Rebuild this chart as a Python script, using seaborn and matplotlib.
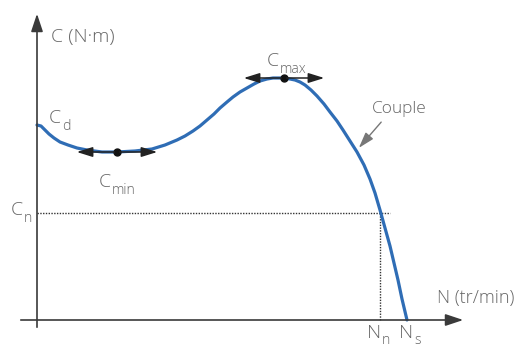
import numpy as np
import pandas as pd
import seaborn as sns
import matplotlib.pyplot as plt

sns.set_theme(style="white")
plt.rcParams['font.family'] = ['Open Sans', 'DejaVu Sans']

# torque curve C = f(N) (origin at the axes crossing)
speed = [0, 4, 8, 12, 17, 23, 31, 40, 50, 65, 80, 98, 115, 128, 140, 148, 156, 163,
         170, 177, 183, 190, 196, 203, 210, 217, 223, 230, 236, 242, 247, 253, 258,
         263, 268, 274, 280, 287, 293, 300, 306, 313, 320, 327, 333, 338, 343, 348,
         353, 357, 361, 365, 370]
torque = [195, 194, 190, 186, 182, 178, 175, 172, 170, 168, 168, 169, 171, 175, 180, 184,
          189, 194, 200, 206, 212, 218, 223, 228, 232, 236, 239, 241, 242, 242, 242, 241,
          240, 238, 235, 230, 224, 216, 208, 199, 190, 179, 168, 155, 141, 127, 110, 92,
          74, 57, 40, 21, 0]

C_min = (80, 168)
C_max = (247, 242)
C_n, N_n = 107, 343

df = pd.DataFrame({'N': speed, 'C': torque})

fig = plt.figure(figsize=(5.24, 3.5), dpi=100)
ax = fig.add_axes([0, 0, 1, 1])
ax.set_xlim(-37, 487)
ax.set_ylim(-30, 320)

txt = '#666666'
ax_col = '#3a3a3a'

# axes with arrows
ax.annotate('', xy=(429, 0), xytext=(-19, 0),
            arrowprops=dict(arrowstyle='-|>,head_length=0.9,head_width=0.3', color=ax_col, lw=1.2))
ax.annotate('', xy=(0, 309), xytext=(0, -10),
            arrowprops=dict(arrowstyle='-|>,head_length=0.9,head_width=0.3', color=ax_col, lw=1.2))

# dotted nominal point lines
ax.plot([0, 353], [C_n, C_n], ls=(0, (1, 1)), color='#333333', lw=1)
ax.plot([N_n, N_n], [0, C_n], ls=(0, (1, 1)), color='#333333', lw=1)

# curve
sns.lineplot(data=df, x='N', y='C', ax=ax, color='#2f6db5', lw=2.3, sort=False,
             legend=False, solid_joinstyle='round')
ax.axis('off')

# tangents at min / max
for (x0, y0) in (C_min, C_max):
    for dx in (-43, 43):
        ax.annotate('', xy=(x0 + dx, y0), xytext=(x0, y0),
                    arrowprops=dict(arrowstyle='-|>,head_length=0.8,head_width=0.25',
                                    color='#222222', lw=1.1))
    ax.plot([x0], [y0], 'o', color='#111111', ms=5)

def sub_label(x, y, main, sub, size=14, drop=7):
    t = ax.text(x, y, main, fontsize=size, color=txt, ha='left', va='baseline',
                fontweight='light')
    fig.canvas.draw()
    bb = t.get_window_extent()
    x1 = ax.transData.inverted().transform((bb.x1, bb.y0))[0]
    ax.text(x1 + 1, y - drop, sub, fontsize=size * 0.72, color=txt, ha='left',
            va='baseline', fontweight='light')

sub_label(12, 197, 'C', 'd')
sub_label(62, 133, 'C', 'min')
sub_label(230, 254, 'C', 'max')
sub_label(-26, 105, 'C', 'n')
sub_label(330, -18, 'N', 'n', drop=6)
sub_label(362, -18, 'N', 's', drop=6)

ax.text(14, 278, 'C (N·m)', fontsize=14, color=txt, ha='left', va='baseline', fontweight='light')
ax.text(400, 17, 'N (tr/min)', fontsize=13, color=txt, ha='left', va='baseline', fontweight='light')
ax.text(335, 207, 'Couple', fontsize=12.5, color=txt, ha='left', va='baseline', fontweight='light')
ax.annotate('', xy=(320, 170), xytext=(346, 200),
            arrowprops=dict(arrowstyle='-|>,head_length=0.8,head_width=0.25', color='#777777', lw=1))

fig.savefig('out.png', dpi=100)
